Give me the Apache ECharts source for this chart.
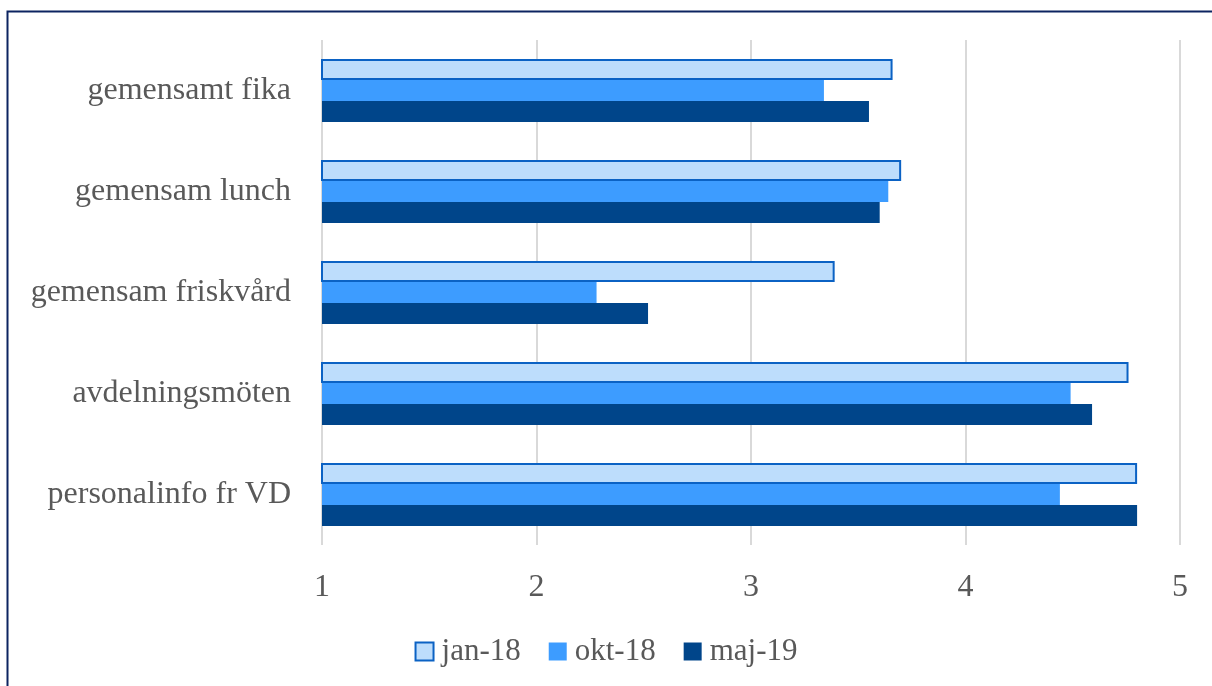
<!DOCTYPE html>
<html>
<head>
<meta charset="utf-8">
<script src="https://cdn.jsdelivr.net/npm/echarts@6/dist/echarts.min.js"></script>
<style>
  html, body { margin: 0; padding: 0; background: #fff; }
  #chart { width: 1212px; height: 686px; }
</style>
</head>
<body>
<div id="chart"></div>
<script>
// Activities, listed top to bottom as shown
const categories = ['gemensamt fika', 'gemensam lunch', 'gemensam friskvård', 'avdelningsmöten', 'personalinfo fr VD'];
const seriesNames = ['jan-18', 'okt-18', 'maj-19'];
const jan18 = [3.66, 3.70, 3.39, 4.76, 4.80];
const okt18 = [3.34, 3.64, 2.28, 4.49, 4.44];
const maj19 = [3.55, 3.60, 2.52, 4.59, 4.80];
const xTicks = [1, 2, 3, 4, 5];

const font = '"Palatino Linotype", "Book Antiqua", Palatino, "Liberation Serif", serif';
const textColor = '#595959';

const chart = echarts.init(document.getElementById('chart'));
chart.setOption({
  backgroundColor: '#fff',
  animation: false,
  textStyle: { fontFamily: font },
  graphic: [{
    type: 'rect',
    shape: { x: 7.5, y: 11.5, width: 1230, height: 700 },
    style: { fill: 'none', stroke: '#0C2461', lineWidth: 2 },
    silent: true
  }],
  grid: { left: 322, right: 32, top: 40, bottom: 141 },
  legend: {
    bottom: 14,
    left: 'center',
    itemWidth: 18,
    itemHeight: 18,
    itemGap: 28,
    icon: 'rect',
    textStyle: { fontFamily: font, fontSize: 31, color: textColor, padding: [0, 0, 0, 3] },
    data: seriesNames
  },
  xAxis: {
    type: 'value',
    min: xTicks[0],
    max: xTicks[xTicks.length - 1],
    interval: 1,
    axisLine: { show: false },
    axisTick: { show: false },
    axisLabel: { fontFamily: font, fontSize: 32, color: textColor, margin: 27 },
    splitLine: { lineStyle: { color: '#D9D9D9', width: 2 } }
  },
  yAxis: {
    type: 'category',
    inverse: true,
    data: categories,
    axisLine: { show: false },
    axisTick: { show: false },
    axisLabel: { fontFamily: font, fontSize: 32, color: textColor, margin: 31 }
  },
  series: [
    {
      name: seriesNames[0], type: 'bar', data: jan18,
      barWidth: 21, barGap: '0%',
      itemStyle: { color: '#BDDDFC', borderColor: '#0B62C4', borderWidth: 2 }
    },
    {
      name: seriesNames[1], type: 'bar', data: okt18,
      barWidth: 21, barGap: '0%',
      itemStyle: { color: '#3D9CFF' }
    },
    {
      name: seriesNames[2], type: 'bar', data: maj19,
      barWidth: 21, barGap: '0%',
      itemStyle: { color: '#00458A' }
    }
  ]
});
</script>
</body>
</html>
